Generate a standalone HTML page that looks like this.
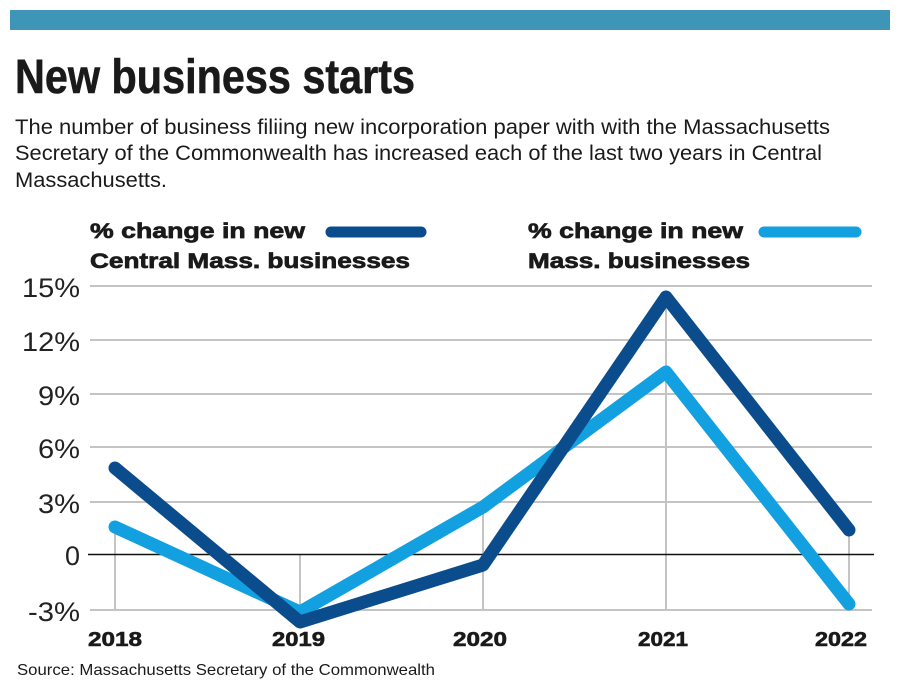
<!DOCTYPE html>
<html>
<head>
<meta charset="utf-8">
<style>
  html,body{margin:0;padding:0;background:#fff;}
  svg{display:block;}
  text{font-family:"Liberation Sans",Arial,sans-serif;}
</style>
</head>
<body>
<svg width="900" height="694" viewBox="0 0 900 694" xmlns="http://www.w3.org/2000/svg">
  <rect x="0" y="0" width="900" height="694" fill="#fff"/>
  <!-- top bar -->
  <rect x="10" y="10" width="880" height="20" fill="#3e95b8"/>

  <!-- title -->
  <text x="15" y="93" font-size="48" font-weight="bold" fill="#1a1a1a" stroke="#1a1a1a" stroke-width="0.6" textLength="400" lengthAdjust="spacingAndGlyphs">New business starts</text>

  <!-- subtitle -->
  <g font-size="21" fill="#1a1a1a">
    <text x="15" y="134" textLength="815" lengthAdjust="spacingAndGlyphs">The number of business filiing new incorporation paper with with the Massachusetts</text>
    <text x="15" y="160" textLength="807" lengthAdjust="spacingAndGlyphs">Secretary of the Commonwealth has increased each of the last two years in Central</text>
    <text x="15" y="187" textLength="152" lengthAdjust="spacingAndGlyphs">Massachusetts.</text>
  </g>

  <!-- legend -->
  <g font-size="21.5" font-weight="bold" fill="#1a1a1a" stroke="#1a1a1a" stroke-width="0.7">
    <text x="90" y="238" textLength="215" lengthAdjust="spacingAndGlyphs">% change in new</text>
    <text x="90" y="268" textLength="320" lengthAdjust="spacingAndGlyphs">Central Mass. businesses</text>
    <text x="528" y="238" textLength="215" lengthAdjust="spacingAndGlyphs">% change in new</text>
    <text x="528" y="268" textLength="222" lengthAdjust="spacingAndGlyphs">Mass. businesses</text>
  </g>
  <line x1="331" y1="232" x2="421" y2="232" stroke="#0b4c8c" stroke-width="11" stroke-linecap="round"/>
  <line x1="764" y1="232" x2="856" y2="232" stroke="#13a0e0" stroke-width="11" stroke-linecap="round"/>

  <!-- gridlines -->
  <g stroke="#c4c4c4" stroke-width="2">
    <line x1="90" y1="286" x2="872" y2="286"/>
    <line x1="90" y1="340" x2="872" y2="340"/>
    <line x1="90" y1="394" x2="872" y2="394"/>
    <line x1="90" y1="447" x2="872" y2="447"/>
    <line x1="90" y1="502" x2="872" y2="502"/>
    <line x1="90" y1="610" x2="872" y2="610"/>
    <!-- verticals -->
    <line x1="115" y1="527" x2="115" y2="610"/>
    <line x1="300" y1="554" x2="300" y2="610"/>
    <line x1="483" y1="507" x2="483" y2="610"/>
    <line x1="666" y1="297" x2="666" y2="610"/>
    <line x1="849" y1="530" x2="849" y2="610"/>
  </g>
  <line x1="88" y1="554.5" x2="874" y2="554.5" stroke="#111" stroke-width="1.6"/>

  <!-- y labels -->
  <g font-size="27" fill="#222">
    <text x="22" y="297" textLength="58" lengthAdjust="spacingAndGlyphs">15%</text>
    <text x="22" y="351" textLength="58" lengthAdjust="spacingAndGlyphs">12%</text>
    <text x="38" y="405" textLength="42" lengthAdjust="spacingAndGlyphs">9%</text>
    <text x="38" y="458" textLength="42" lengthAdjust="spacingAndGlyphs">6%</text>
    <text x="38" y="513" textLength="42" lengthAdjust="spacingAndGlyphs">3%</text>
    <text x="65" y="565" textLength="15" lengthAdjust="spacingAndGlyphs">0</text>
    <text x="28" y="621" textLength="52" lengthAdjust="spacingAndGlyphs">-3%</text>
  </g>

  <!-- series -->
  <polyline points="115,527 300,612 483,507 666,372 849,604" fill="none" stroke="#13a0e0" stroke-width="13" stroke-linecap="round" stroke-linejoin="round"/>
  <polyline points="115,468 300,622 483,565 666,297 849,530" fill="none" stroke="#0b4c8c" stroke-width="13" stroke-linecap="round" stroke-linejoin="round"/>

  <!-- x labels -->
  <g font-size="20" font-weight="bold" fill="#1a1a1a" stroke="#1a1a1a" stroke-width="0.6">
    <text x="88" y="646" textLength="54" lengthAdjust="spacingAndGlyphs">2018</text>
    <text x="272" y="646" textLength="53" lengthAdjust="spacingAndGlyphs">2019</text>
    <text x="453" y="646" textLength="54" lengthAdjust="spacingAndGlyphs">2020</text>
    <text x="638" y="646" textLength="50" lengthAdjust="spacingAndGlyphs">2021</text>
    <text x="815" y="646" textLength="52" lengthAdjust="spacingAndGlyphs">2022</text>
  </g>

  <!-- source -->
  <text x="17" y="675" font-size="16" fill="#1a1a1a" textLength="418" lengthAdjust="spacingAndGlyphs">Source: Massachusetts Secretary of the Commonwealth</text>
</svg>
</body>
</html>
